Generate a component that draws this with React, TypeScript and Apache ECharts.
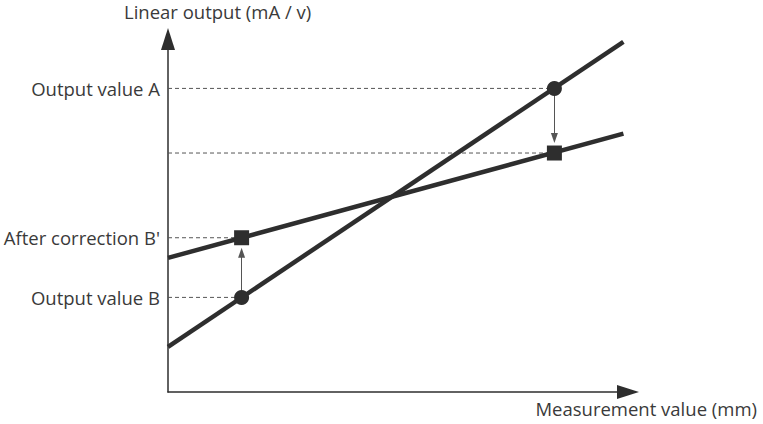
import React, { useEffect, useRef } from "react";
import * as echarts from "echarts";

const yAxisTitle = "Linear output (mA / v)";
const xAxisTitle = "Measurement value (mm)";
// two calibration lines (x = measurement, y = output), on a 0–100 scale
const rawLine: [number, number][] = [[0, 12.8], [99, 99.2]];
const correctedLine: [number, number][] = [[0, 38.0], [99, 73.2]];
// measurement positions of the two sample points
const pointX = [16, 84];
// outputs before (circles) and after (squares) correction
const outputValues = [26.8, 86.0];
const correctedValues = [43.7, 67.7];
// y-axis labels
const tickValues = [26.8, 43.7, 86.0];
const tickLabels = ["Output value B", "After correction B'", "Output value A"];

const FONT = "'Open Sans', 'Noto Sans', sans-serif";
const TEXT = "#3a3a3a";
const DARK = "#2e2e2e";
const FS = 18.5;

export default function App() {
  const ref = useRef<HTMLDivElement>(null);
  useEffect(() => {
    if (!ref.current) return;
    const chart = echarts.init(ref.current, undefined, { renderer: "svg" });
    const grid = { left: 168, right: 135, top: 39, bottom: 32 };
    const plotH = 424 - grid.top - grid.bottom;
    const yUnit = plotH / 100;
    const arrowGap = 15 / yUnit;

    const dashed = [...outputValues, ...correctedValues].map((v, i) => ({
      type: "line",
      silent: true,
      symbol: "none",
      z: 1,
      lineStyle: { color: "#555", width: 1, type: [4, 3] },
      data: [[0, v], [pointX[i % 2], v]],
    }));

    chart.setOption({
      animation: false,
      grid,
      xAxis: {
        type: "value",
        min: 0,
        max: 100,
        axisLine: {
          show: true,
          symbol: ["none", "triangle"],
          symbolSize: [14, 22],
          lineStyle: { color: DARK, width: 1.5 },
        },
        axisTick: { show: false },
        axisLabel: { show: false },
        splitLine: { show: false },
      },
      yAxis: {
        type: "value",
        min: 0,
        max: 100,
        axisLine: {
          show: true,
          symbol: ["none", "triangle"],
          symbolSize: [14, 22],
          lineStyle: { color: DARK, width: 1.5 },
        },
        axisTick: { show: false },
        splitLine: { show: false },
        axisLabel: {
          show: true,
          customValues: tickValues,
          margin: 8,
          color: TEXT,
          fontFamily: FONT,
          fontSize: FS,
          formatter: (v: number) => {
            const i = tickValues.findIndex((t) => Math.abs(t - v) < 0.01);
            return i >= 0 ? tickLabels[i] : "";
          },
        },
      },
      graphic: [
        {
          type: "text",
          left: 124,
          top: 2,
          style: { text: yAxisTitle, fill: TEXT, font: `${FS}px ${FONT}` },
        },
        {
          type: "text",
          right: 6,
          top: 399,
          style: { text: xAxisTitle, fill: TEXT, font: `${FS}px ${FONT}` },
        },
      ],
      series: [
        ...dashed,
        {
          type: "line",
          silent: true,
          symbol: "none",
          z: 3,
          lineStyle: { color: DARK, width: 4.5 },
          data: rawLine,
        },
        {
          type: "line",
          silent: true,
          symbol: "none",
          z: 3,
          lineStyle: { color: DARK, width: 4.5 },
          data: correctedLine,
        },
        {
          type: "line",
          silent: true,
          data: [],
          z: 2,
          markLine: {
            silent: true,
            animation: false,
            symbol: ["none", "triangle"],
            symbolSize: [7, 10],
            label: { show: false },
            lineStyle: { color: "#555", width: 1, type: "solid" },
            data: pointX.map((x, i) => {
              const dir = correctedValues[i] > outputValues[i] ? 1 : -1;
              return [
                { coord: [x, outputValues[i]] },
                { coord: [x, correctedValues[i] - dir * arrowGap] },
              ];
            }),
          },
        },
        {
          type: "scatter",
          silent: true,
          z: 5,
          symbol: "circle",
          symbolSize: 15,
          itemStyle: { color: DARK, opacity: 1 },
          data: pointX.map((x, i) => [x, outputValues[i]]),
        },
        {
          type: "scatter",
          silent: true,
          z: 5,
          symbol: "rect",
          symbolSize: 15,
          itemStyle: { color: DARK, opacity: 1 },
          data: pointX.map((x, i) => [x, correctedValues[i]]),
        },
      ],
    });
    return () => chart.dispose();
  }, []);
  return (
    <div
      ref={ref}
      style={{ position: "fixed", left: 0, top: 0, width: 763, height: 424, background: "#fff" }}
    />
  );
}
